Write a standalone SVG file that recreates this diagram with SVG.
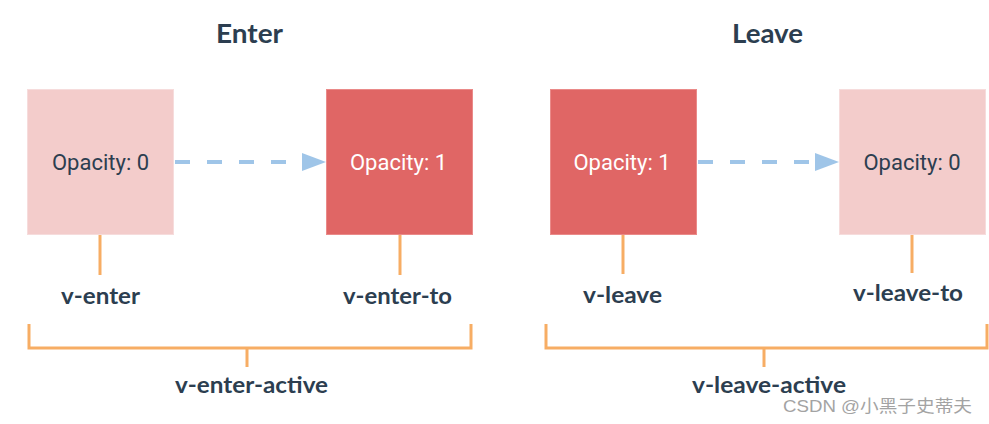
<svg xmlns="http://www.w3.org/2000/svg" width="989" height="424" viewBox="0 0 989 424">
<style>
.light{fill:#f3cccb;stroke:#f6dcdc;stroke-width:1}
.dark{fill:#e06665;stroke:#ea8a89;stroke-width:1}
.op{font-family:Roboto,"Liberation Sans",sans-serif;font-size:22px;text-anchor:middle}
.opd{fill:#2c3e50}
.opw{fill:#ffffff}
.title{font-family:Lato,"Liberation Sans",sans-serif;font-weight:bold;font-size:27px;fill:#2c3e50;text-anchor:middle}
.lbl{font-family:Lato,"Liberation Sans",sans-serif;font-weight:bold;font-size:22.5px;fill:#2c3e50;text-anchor:middle}
.org{stroke:#f7ad64;stroke-width:3;fill:none}
.arr{stroke:#9fc5e8;stroke-width:4;stroke-dasharray:15 17;fill:none}
.wm{font-family:"Liberation Sans","Noto Sans CJK SC",sans-serif;font-size:17px;fill:#9a9a9a;opacity:0.9}
</style>
<defs>
<marker id="ah" markerWidth="24" markerHeight="18" refX="0" refY="9" orient="auto" markerUnits="userSpaceOnUse">
<polygon points="0,0 24,9 0,18" fill="#9fc5e8"/>
</marker>
</defs>
<rect width="989" height="424" fill="#ffffff"/>
<text class="title" x="249.5" y="43" textLength="67" lengthAdjust="spacingAndGlyphs">Enter</text>
<text class="title" x="767.5" y="43" textLength="71" lengthAdjust="spacingAndGlyphs">Leave</text>
<g id="connectors">
<path class="arr" d="M175,162 H302" marker-end="url(#ah)"/>
<path class="arr" d="M698,162 H815" marker-end="url(#ah)"/>
<line class="org" x1="100" y1="235" x2="100" y2="275"/>
<line class="org" x1="400" y1="235" x2="400" y2="275"/>
<line class="org" x1="623" y1="235" x2="623" y2="274"/>
<line class="org" x1="912" y1="235" x2="912" y2="273"/>
<path class="org" d="M29,324 V348 H471 V324 M247,348 V367"/>
<path class="org" d="M546,324 V348 H987 V324 M764,348 V367"/>
</g>
<g id="enter-from">
<rect class="light" x="27.5" y="89.5" width="146" height="145"/>
<text class="op opd" x="100.5" y="170">Opacity: 0</text>
</g>
<g id="enter-to">
<rect class="dark" x="326.5" y="89.5" width="146" height="145"/>
<text class="op opw" x="398.5" y="170">Opacity: 1</text>
</g>
<g id="leave-from">
<rect class="dark" x="550.5" y="89.5" width="146" height="145"/>
<text class="op opw" x="622" y="170">Opacity: 1</text>
</g>
<g id="leave-to">
<rect class="light" x="839.5" y="89.5" width="146" height="145"/>
<text class="op opd" x="912" y="170">Opacity: 0</text>
</g>
<g id="labels">
<text class="lbl" x="100.5" y="304" textLength="79" lengthAdjust="spacingAndGlyphs">v-enter</text>
<text class="lbl" x="397.5" y="304" textLength="109" lengthAdjust="spacingAndGlyphs">v-enter-to</text>
<text class="lbl" x="622.5" y="303" textLength="79" lengthAdjust="spacingAndGlyphs">v-leave</text>
<text class="lbl" x="908" y="301" textLength="110" lengthAdjust="spacingAndGlyphs">v-leave-to</text>
<text class="lbl" x="251.5" y="393" textLength="153" lengthAdjust="spacingAndGlyphs">v-enter-active</text>
<text class="lbl" x="769" y="393" textLength="154" lengthAdjust="spacingAndGlyphs">v-leave-active</text>
</g>
<text class="wm" x="783" y="412" textLength="189" lengthAdjust="spacingAndGlyphs">CSDN @小黑子史蒂夫</text>
</svg>
